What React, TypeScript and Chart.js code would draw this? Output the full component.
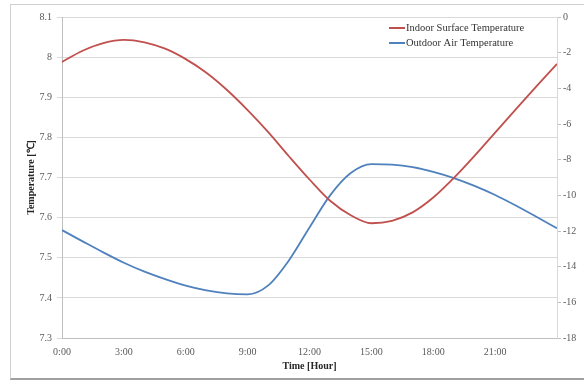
import React, { useEffect, useRef } from 'react';
import { Chart, registerables } from 'chart.js';

Chart.register(...registerables);

// ---- Data ----
const hours = [0, 1, 2, 3, 4, 5, 6, 7, 8, 9, 10, 11, 12, 13, 14, 15, 16, 17, 18, 19, 20, 21, 22, 23, 24];
const indoorSurfaceTemp = [
  7.988, 8.016, 8.035, 8.043, 8.037, 8.021, 7.995, 7.961, 7.918, 7.868, 7.813, 7.753, 7.695,
  7.642, 7.606, 7.586, 7.592, 7.613, 7.65, 7.699, 7.754, 7.812, 7.87, 7.927, 7.983,
];
const outdoorAirTemp = [
  -11.95, -12.58, -13.2, -13.78, -14.28, -14.7, -15.06, -15.33, -15.5, -15.55, -15.05, -13.65, -11.8,
  -10.0, -8.75, -8.25, -8.28, -8.42, -8.68, -9.03, -9.47, -9.98, -10.57, -11.2, -11.85,
];
const seriesLabels = ['Indoor Surface Temperature', 'Outdoor Air Temperature'];
const seriesColors = ['#c0504d', '#4f81bd'];
const xTickStep = 3;
const xMin = 0;
const xMax = 24;
const leftMin = 7.3;
const leftMax = 8.1;
const leftStep = 0.1;
const rightMin = -18;
const rightMax = 0;
const rightStep = 2;
const xTitle = 'Time [Hour]';
const yTitle = 'Temperature [℃]';

const FONT = "'Liberation Serif', 'Times New Roman', serif";

const insideLegend = {
  id: 'insideLegend',
  afterDatasetsDraw(chart: any) {
    const { ctx, chartArea } = chart;
    ctx.save();
    chart.data.datasets.forEach((ds: any, i: number) => {
      const y = chartArea.top + 11 + i * 15;
      const x0 = chartArea.right - 168;
      ctx.strokeStyle = ds.borderColor;
      ctx.lineWidth = 2;
      ctx.beginPath();
      ctx.moveTo(x0, y);
      ctx.lineTo(x0 + 16, y);
      ctx.stroke();
      ctx.fillStyle = '#333333';
      ctx.font = `10.5px ${FONT}`;
      ctx.textBaseline = 'middle';
      ctx.textAlign = 'left';
      ctx.fillText(ds.label, x0 + 17, y + 0.5);
    });
    ctx.restore();
  },
};

export default function App() {
  const canvasRef = useRef<HTMLCanvasElement | null>(null);

  useEffect(() => {
    document.body.style.margin = '0';
    const canvas = canvasRef.current;
    if (!canvas) return;
    const chart = new Chart(canvas, {
      type: 'line',
      data: {
        datasets: [
          {
            label: seriesLabels[0],
            data: hours.map((h, i) => ({ x: h, y: indoorSurfaceTemp[i] })),
            borderColor: seriesColors[0],
            backgroundColor: seriesColors[0],
            borderWidth: 1.8,
            pointRadius: 0,
            cubicInterpolationMode: 'monotone',
            yAxisID: 'y',
          },
          {
            label: seriesLabels[1],
            data: hours.map((h, i) => ({ x: h, y: outdoorAirTemp[i] })),
            borderColor: seriesColors[1],
            backgroundColor: seriesColors[1],
            borderWidth: 1.8,
            pointRadius: 0,
            cubicInterpolationMode: 'monotone',
            yAxisID: 'y1',
          },
        ],
      },
      options: {
        animation: false,
        responsive: false,
        maintainAspectRatio: false,
        layout: { padding: { top: 17, left: 0, right: 0, bottom: 0 } },
        plugins: {
          legend: { display: false },
          tooltip: { enabled: false },
        },
        scales: {
          x: {
            type: 'linear',
            min: xMin,
            max: xMax,
            afterFit: (s: any) => {
              s.height = 45;
            },
            ticks: {
              stepSize: xTickStep,
              padding: 8,
              color: '#595959',
              font: { family: FONT, size: 10 },
              maxRotation: 0,
              autoSkip: false,
              callback: (v: any) => (Number(v) >= xMax ? '' : `${v}:00`),
            },
            grid: { display: false, drawTicks: false },
            border: { display: true, color: '#bfbfbf' },
            title: {
              display: true,
              text: xTitle,
              color: '#262626',
              font: { family: FONT, size: 10, weight: 'bold' },
              padding: { top: 0, bottom: 11 },
            },
          },
          y: {
            position: 'left',
            min: leftMin,
            max: leftMax,
            afterFit: (s: any) => {
              s.width = 62;
            },
            ticks: {
              stepSize: leftStep,
              padding: 5,
              color: '#595959',
              font: { family: FONT, size: 10 },
              callback: (v: any) => String(Math.round(Number(v) * 10) / 10),
            },
            grid: { color: '#d9d9d9', tickLength: 5, lineWidth: 1 },
            border: { display: true, color: '#bfbfbf' },
            title: {
              display: true,
              text: yTitle,
              color: '#262626',
              font: { family: FONT, size: 10, weight: 'bold' },
              padding: { top: 25, bottom: 0 },
            },
          },
          y1: {
            position: 'right',
            min: rightMin,
            max: rightMax,
            afterFit: (s: any) => {
              s.width = 27;
            },
            ticks: {
              stepSize: rightStep,
              padding: 2,
              color: '#595959',
              font: { family: FONT, size: 10 },
            },
            grid: { drawOnChartArea: false, color: '#bfbfbf', tickLength: 4 },
            border: { display: true, color: '#d9d9d9' },
          },
        },
      },
      plugins: [insideLegend],
    } as any);
    return () => chart.destroy();
  }, []);

  return (
    <div style={{ position: 'relative', width: 584, height: 383, background: '#fff' }}>
      <canvas ref={canvasRef} width={584} height={383} style={{ position: 'absolute', left: 0, top: 0, width: 584, height: 383 }} />
      <div
        style={{
          position: 'absolute',
          left: 10,
          top: 4,
          width: 580,
          height: 373,
          borderLeft: '1px solid #d0d0d0',
          borderTop: '1px solid #d0d0d0',
          borderBottom: '2px solid #a0a0a0',
          pointerEvents: 'none',
        }}
      />
    </div>
  );
}
